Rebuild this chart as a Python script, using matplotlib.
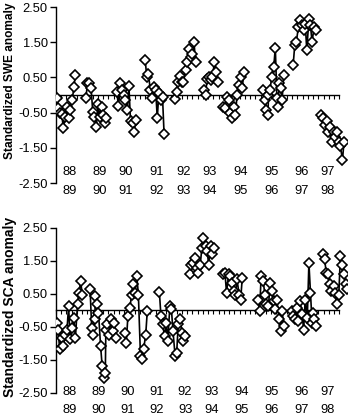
import matplotlib
matplotlib.use("Agg")
import matplotlib.pyplot as plt

plt.rcParams["font.family"] = ["Liberation Sans", "DejaVu Sans"]
plt.rcParams["axes.unicode_minus"] = False

# each winter: list of columns, each column holds the anomalies drawn one above another
# x of a cluster start is given in category units (one tick on the zero line = 1)
swe_starts = [0.1, 5.7, 11.6, 17.0, 22.7, 28.2, 31.9, 39.5, 45.2, 50.6]
swe_8889 = [[-0.07, -0.38, -0.5], [-0.55, -0.94, -0.62], [-0.33, -0.66, -0.42], [-0.14, 0.22, 0.57]]
swe_8990 = [[-0.09, 0.33, 0.35], [0.19, -0.47, -0.61], [-0.9, -0.24, -0.61], [-0.33, -0.57, -0.8, -0.66]]
swe_9091 = [[0.09, -0.31, 0.33], [0.14, 0.0, -0.14], [-0.42, 0.25, -0.75], [-0.8, -1.04, -0.71]]
swe_9192 = [[1.0, 0.52, 0.59], [0.14, -0.09, 0.22], [0.14, -0.66, 0.05], [-0.14, -0.05, -1.11]]
swe_9293 = [[-0.12, 0.09, 0.38], [0.54, 0.38, 0.38], [0.71, 0.94, 1.32], [1.08, 1.18, 1.5, 0.94]]
swe_9394 = [[0.14, 0.0, 0.47], [0.52, 0.42, 0.5], [0.94, 0.66, 0.38]]
swe_9495 = [[-0.33, -0.38, -0.05], [-0.14, -0.52, -0.66], [-0.33, -0.57, 0.0], [0.28, 0.52, 0.19, 0.66]]
swe_9596 = [[0.14, -0.14, -0.42, -0.57], [0.0, 0.14, 0.52], [0.8, 1.35, -0.09, -0.33], [0.33, 0.19, -0.14, 0.57]]
swe_9697 = [[0.85, 1.42, 1.51], [1.93, 2.12, 1.98], [1.84, 2.03, 1.27], [2.17, 1.98, 1.51], [1.93, 1.84]]
swe_9798 = [[-0.57, -0.66, -0.85], [-0.75, -1.04, -0.9], [-1.32, -1.04, -1.18], [-1.04, -1.32, -1.46], [-1.84, -1.32]]
swe_seasons = [swe_8889, swe_8990, swe_9091, swe_9192, swe_9293,
               swe_9394, swe_9495, swe_9596, swe_9697, swe_9798]

sca_starts = [0.1, 6.5, 13.1, 19.7, 25.5, 31.9, 38.5, 44.9, 50.9]
sca_8889 = [[-0.37, -0.58, -1.18], [-0.83, -1.08, -0.73], [-0.58, 0.13, -0.88], [-0.53, -0.22, -0.83], [0.18, 0.54, 0.89, 0.48]]
sca_8990 = [[0.64, -0.53, -0.73, -0.27], [0.43, 0.18, -0.07], [-1.08, -1.69, -2.04, -1.89], [-0.58, -0.42, -0.73], [-0.27, -0.63, -0.37, -0.83]]
sca_9091 = [[-0.68, -0.98, -0.17], [0.08, 0.48, 0.79], [0.54, 1.04, 0.48], [-1.38, -1.48, -1.18], [-0.73, -0.02]]
sca_9192 = [[0.57, -0.17, -0.42], [-0.78, -0.37, -0.93], [0.13, 0.03, -0.63], [-1.38, -1.28, -0.42], [-0.27, -0.68, -0.93, -0.78]]
sca_9293 = [[1.09, 1.39, 1.44], [1.6, 1.29, 1.14], [1.39, 1.9, 2.2], [1.95, 1.8, 1.39], [1.95, 1.7, 1.9]]
sca_9394 = [[1.09, 1.14, 0.54], [1.09, 1.04, 0.84], [0.59, 0.48, 0.94], [0.48, 0.33, 0.99]]
sca_9596 = [[0.33, -0.02, 1.04], [0.89, 0.48, 0.18], [0.13, 0.84, 0.59], [0.28, 0.03, 0.33], [-0.27, -0.63, -0.02, -0.47]]
sca_9697 = [[-0.02, -0.17, -0.27], [0.08, -0.32, 0.28], [-0.12, -0.58, 0.33], [-0.22, 1.44, 0.54, -0.37], [-0.07, -0.27, -0.47]]
sca_9798 = [[1.7, 1.55, 1.14], [1.09, 0.79, 0.59], [0.74, 0.54, 0.18], [0.48, 1.65, 1.39], [1.09, 0.79, 0.64]]
sca_seasons = [sca_8889, sca_8990, sca_9091, sca_9192, sca_9293,
               sca_9394, sca_9596, sca_9697, sca_9798]

years_from = ["88", "89", "90", "91", "92", "93", "94", "95", "96", "97"]
years_to = ["89", "90", "91", "92", "93", "94", "95", "96", "97", "98"]
swe_label_x = [2.67, 8.38, 13.3, 19.2, 24.4, 29.3, 35.2, 41.1, 46.8, 51.8]
sca_label_x = [2.67, 8.19, 13.7, 19.2, 24.6, 29.7, 35.4, 41.1, 46.8, 51.8]

yticks = [2.5, 1.5, 0.5, -0.5, -1.5, -2.5]
ytick_labels = ["2.50", "1.50", "0.50", "-0.50", "-1.50", "-2.50"]


def draw_panel(ax, starts, seasons, label_x, row_y):
    for x0, cols in zip(starts, seasons):
        xs, ys = [], []
        for i, col in enumerate(cols):
            for j, v in enumerate(col):
                xs.append(x0 + i + j * 0.3)
                ys.append(v)
        ax.plot(xs, ys, color="black", lw=1.2, marker="D", ms=5.2,
                mfc="white", mec="black", mew=1.2, zorder=3)

    ax.set_xlim(0, 55.5)
    ax.set_ylim(-2.5, 2.5)
    ax.set_yticks(yticks)
    ax.set_yticklabels(ytick_labels, fontsize=9.3)
    ax.tick_params(axis="y", direction="out", length=4, width=1, pad=2)

    ax.spines["top"].set_visible(False)
    ax.spines["right"].set_visible(False)
    ax.spines["left"].set_linewidth(1)
    ax.spines["bottom"].set_position(("data", 0))
    ax.spines["bottom"].set_bounds(0, 54)
    ax.spines["bottom"].set_linewidth(1)
    ax.set_xticks(range(0, 55))
    ax.set_xticklabels([])
    ax.tick_params(axis="x", direction="out", length=3, width=0.8)

    for x, a, b in zip(label_x, years_from, years_to):
        ax.text(x, row_y[0], a, ha="center", va="center", fontsize=9.3, clip_on=False)
        ax.text(x, row_y[1], b, ha="center", va="center", fontsize=9.3, clip_on=False)


fig = plt.figure(figsize=(3.5, 4.17), dpi=100)
ax1 = fig.add_axes([0.16, 0.561, 0.832, 0.422])
ax2 = fig.add_axes([0.16, 0.0576, 0.832, 0.396])

draw_panel(ax1, swe_starts, swe_seasons, swe_label_x, (-2.19, -2.73))
draw_panel(ax2, sca_starts, sca_seasons, sca_label_x, (-2.47, -3.02))

fig.text(0.029, 0.806, "Standardized SWE anomaly", rotation=90, ha="center", va="center",
         fontsize=8.6, fontweight="bold")
fig.text(0.029, 0.264, "Standardized SCA anomaly", rotation=90, ha="center", va="center",
         fontsize=10, fontweight="bold")

fig.savefig("out.png", dpi=100)
